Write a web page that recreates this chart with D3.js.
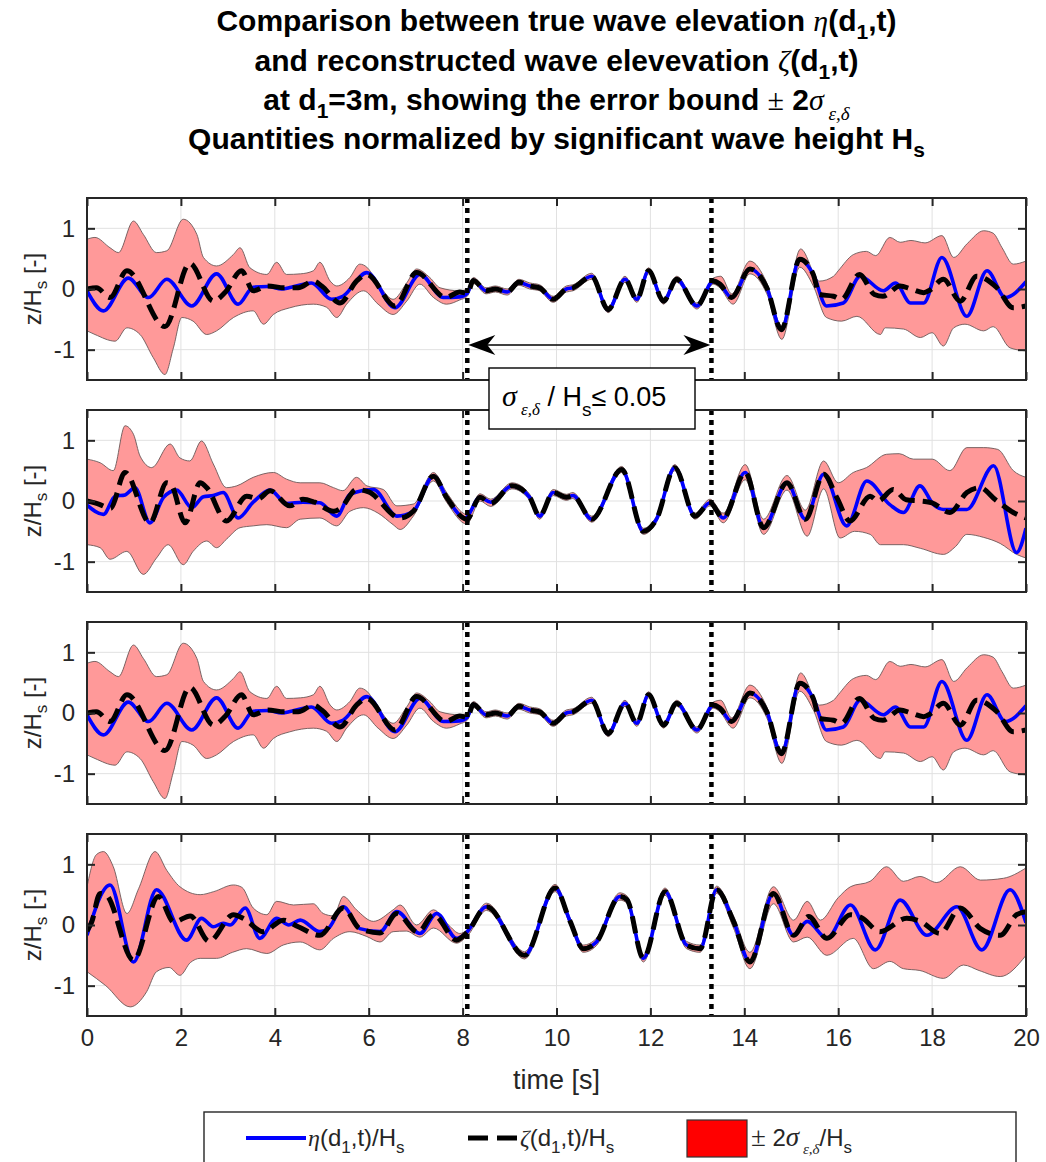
<!DOCTYPE html>
<html>
<head>
<meta charset="utf-8">
<script src="https://cdn.jsdelivr.net/npm/d3@7"></script>
<style>
  body { margin: 0; background: #fff; }
  svg { display: block; }
</style>
</head>
<body>
<svg id="chart" width="1046" height="1162"></svg>
<script>
// ---------------------------------------------------------------
// Wave elevation at d1 = 3 m, normalised by Hs.
// Each series is a list of [time (s), z/Hs] samples.
// ---------------------------------------------------------------

const timeTicks = [0, 2, 4, 6, 8, 10, 12, 14, 16, 18, 20];
const levelTicks = [-1, 0, 1];
const predictionWindow = [8.1, 13.3];   // s, zone where sigma/Hs <= 0.05

// Run A (top panel, repeated in the third panel)
const etaA = [[0,-0.03],[0.35,-0.36],[0.88,0.18],[1.31,-0.14],[1.70,0.16],[2.23,-0.28],[2.76,0.25],[3.22,-0.25],[3.54,0.03],[3.85,0.04],[4.15,0.0],[4.35,0.03],[4.78,0.10],[5.21,-0.17],[5.45,-0.12],[5.96,0.27],[6.56,-0.31],[7.09,0.24],[7.59,-0.14],[7.94,-0.13],[8.1,-0.07],[8.23,0.14],[8.5,-0.03],[8.7,0.0],[8.95,-0.05],[9.2,0.11],[9.43,0.05],[9.64,0.02],[9.93,-0.17],[10.21,0.0],[10.35,0.02],[10.75,0.21],[11.1,-0.34],[11.46,0.16],[11.71,-0.17],[11.96,0.30],[12.28,-0.20],[12.56,0.16],[12.99,-0.28],[13.34,0.13],[13.48,0.08],[13.73,-0.14],[14.12,0.33],[14.48,0.02],[14.79,-0.67],[15.18,0.49],[15.47,0.24],[15.75,-0.28],[16.11,-0.23],[16.47,0.21],[16.96,-0.03],[17.22,0.10],[17.54,-0.23],[17.82,-0.23],[18.21,0.52],[18.74,-0.45],[19.17,0.30],[19.56,-0.14],[20,0.12]];
const zetaA = [[0,0.0],[0.2,0.02],[0.49,-0.14],[0.85,0.30],[1.66,-0.62],[2.19,0.42],[2.69,-0.2],[2.95,-0.05],[3.29,0.30],[3.54,-0.03],[3.85,0.05],[4.2,0.02],[4.5,0.02],[4.82,0.13],[5.0,0.05],[5.39,-0.23],[5.74,0.13],[5.96,0.24],[6.56,-0.28],[7.02,0.27],[7.64,-0.14],[7.94,-0.05],[8.1,-0.07],[8.23,0.14],[8.5,-0.03],[8.7,0.0],[8.95,-0.05],[9.2,0.11],[9.43,0.05],[9.64,0.02],[9.93,-0.17],[10.21,0.0],[10.35,0.02],[10.75,0.21],[11.1,-0.34],[11.46,0.16],[11.71,-0.17],[11.96,0.30],[12.28,-0.20],[12.56,0.16],[12.99,-0.28],[13.34,0.13],[13.48,0.08],[13.73,-0.14],[14.12,0.33],[14.48,0.02],[14.79,-0.67],[15.18,0.49],[15.47,0.24],[15.6,-0.09],[15.9,-0.12],[16.07,-0.17],[16.45,0.24],[16.77,-0.09],[16.95,-0.12],[17.32,0.05],[17.55,0.0],[17.82,-0.06],[17.95,-0.02],[18.24,0.16],[18.6,-0.20],[18.95,0.21],[19.38,0.02],[19.73,-0.31],[20,-0.28]];
const upperA = [[0,0.82],[0.17,0.85],[0.49,0.68],[0.67,0.60],[0.99,1.12],[1.2,0.90],[1.48,0.60],[1.70,0.63],[2.05,1.15],[2.34,0.90],[2.48,0.52],[2.76,0.38],[3.12,0.57],[3.26,0.68],[3.47,0.35],[3.83,0.24],[4.04,0.44],[4.25,0.24],[4.55,0.25],[4.82,0.30],[4.96,0.44],[5.18,0.13],[5.32,0.05],[5.6,0.19],[5.81,0.41],[5.96,0.36],[6.17,0.13],[6.52,-0.17],[6.81,0.1],[7.02,0.33],[7.3,0.19],[7.52,0.02],[7.94,-0.03],[8.1,0.0],[8.23,0.19],[8.5,0.02],[8.7,0.05],[8.95,0.0],[9.2,0.16],[9.43,0.10],[9.64,0.07],[9.93,-0.12],[10.21,0.05],[10.35,0.07],[10.75,0.26],[11.1,-0.29],[11.46,0.21],[11.71,-0.12],[11.96,0.35],[12.28,-0.15],[12.56,0.21],[12.99,-0.23],[13.34,0.18],[13.5,0.21],[13.73,-0.08],[14.12,0.46],[14.48,0.1],[14.79,-0.6],[15.2,0.66],[15.6,0.13],[15.9,0.21],[16.0,0.3],[16.33,0.57],[16.6,0.62],[16.8,0.55],[17.1,0.85],[17.32,0.77],[17.55,0.8],[17.85,0.76],[18.21,0.88],[18.46,0.52],[18.75,0.75],[19.1,0.96],[19.3,0.92],[19.49,0.68],[19.73,0.41],[20,0.46]];
const lowerA = [[0,-0.69],[0.17,-0.75],[0.6,-0.86],[0.85,-0.64],[1.13,-0.75],[1.41,-1.13],[1.66,-1.41],[1.84,-0.97],[2.02,-0.47],[2.26,-0.53],[2.55,-0.75],[2.76,-0.69],[3.12,-0.47],[3.54,-0.36],[3.76,-0.58],[3.97,-0.42],[4.32,-0.31],[4.82,-0.25],[5.1,-0.3],[5.32,-0.47],[5.53,-0.25],[5.89,-0.03],[6.2,-0.25],[6.52,-0.42],[6.81,-0.20],[7.09,0.08],[7.38,-0.14],[7.66,-0.25],[7.94,-0.18],[8.1,-0.12],[8.23,0.09],[8.5,-0.08],[8.7,-0.05],[8.95,-0.1],[9.2,0.06],[9.43,0.0],[9.64,-0.03],[9.93,-0.22],[10.21,-0.05],[10.35,-0.03],[10.75,0.16],[11.1,-0.39],[11.46,0.11],[11.71,-0.22],[11.96,0.25],[12.28,-0.25],[12.56,0.11],[12.99,-0.33],[13.34,0.08],[13.48,0.02],[13.76,-0.25],[14.12,0.25],[14.48,-0.08],[14.8,-0.83],[15.18,0.36],[15.47,0.05],[15.75,-0.47],[16.07,-0.53],[16.4,-0.45],[16.9,-0.75],[17.0,-0.64],[17.39,-0.66],[17.75,-0.80],[18.0,-0.72],[18.24,-0.94],[18.46,-0.64],[18.7,-0.58],[19.1,-0.69],[19.3,-0.62],[19.66,-0.97],[20,-1.02]];

// Run B (second panel)
const etaB = [[0,-0.07],[0.35,-0.22],[0.6,0.08],[0.81,0.10],[1.02,0.22],[1.34,-0.36],[1.63,0.06],[1.91,0.18],[2.23,-0.11],[2.48,0.07],[2.69,0.09],[2.9,0.14],[3.22,-0.28],[3.54,-0.02],[3.9,0.18],[4.25,-0.04],[4.6,-0.02],[4.96,-0.03],[5.32,-0.25],[5.6,0.11],[6.1,0.19],[6.6,-0.25],[6.95,-0.17],[7.38,0.41],[7.66,0.06],[8.05,-0.28],[8.37,0.06],[8.6,-0.02],[9.05,0.25],[9.43,0.06],[9.64,-0.25],[9.93,0.14],[10.21,0.06],[10.35,0.09],[10.75,-0.30],[11.39,0.52],[11.85,-0.50],[12.13,-0.30],[12.52,0.55],[12.95,-0.25],[13.27,-0.03],[13.55,-0.28],[14.02,0.47],[14.41,-0.44],[14.91,0.30],[15.3,-0.30],[15.69,0.44],[16.18,-0.41],[16.61,0.33],[17.1,-0.06],[17.39,-0.19],[17.74,0.25],[18.03,-0.06],[18.24,-0.14],[18.74,-0.14],[19.31,0.58],[19.8,-0.85],[20,-0.45]];
const zetaB = [[0,0.0],[0.25,-0.05],[0.5,-0.12],[0.81,0.47],[1.34,-0.36],[1.7,0.30],[1.8,0.26],[2.09,-0.36],[2.41,0.30],[2.55,0.22],[2.97,-0.33],[3.4,0.08],[3.65,0.04],[3.9,0.17],[4.32,-0.08],[4.6,0.03],[4.85,-0.02],[5.25,-0.17],[5.4,-0.12],[5.74,0.19],[6.0,0.15],[6.67,-0.28],[6.95,-0.17],[7.38,0.41],[7.66,0.06],[8.09,-0.30],[8.37,0.06],[8.6,-0.04],[9.05,0.25],[9.43,0.06],[9.64,-0.25],[9.93,0.14],[10.21,0.06],[10.35,0.09],[10.75,-0.30],[11.39,0.52],[11.85,-0.50],[12.13,-0.30],[12.52,0.55],[12.95,-0.25],[13.27,-0.03],[13.55,-0.28],[14.02,0.47],[14.41,-0.44],[14.91,0.30],[15.3,-0.30],[15.69,0.44],[15.97,0.06],[16.25,-0.33],[16.68,0.08],[16.85,0.0],[17.17,0.19],[17.45,0.02],[17.74,0.0],[18.0,-0.03],[18.38,-0.19],[18.74,0.14],[19.02,0.22],[19.35,0.02],[19.73,-0.19],[20,-0.28]];
const upperB = [[0,0.69],[0.28,0.63],[0.56,0.50],[0.81,1.24],[0.99,1.10],[1.13,0.74],[1.38,0.55],[1.77,0.94],[1.98,0.71],[2.19,0.66],[2.44,0.99],[2.69,0.61],[2.97,0.22],[3.19,0.25],[3.54,0.39],[3.97,0.47],[4.25,0.36],[4.54,0.30],[4.96,0.30],[5.25,0.22],[5.45,0.17],[5.74,0.39],[5.96,0.25],[6.31,0.19],[6.6,-0.08],[6.95,-0.05],[7.38,0.47],[7.66,0.14],[8.09,-0.22],[8.37,0.12],[8.6,0.03],[9.05,0.30],[9.43,0.11],[9.64,-0.20],[9.93,0.19],[10.21,0.11],[10.35,0.14],[10.75,-0.25],[11.39,0.57],[11.85,-0.45],[12.13,-0.25],[12.52,0.60],[12.95,-0.20],[13.27,0.03],[13.55,-0.2],[14.02,0.6],[14.41,-0.3],[14.91,0.42],[15.3,-0.15],[15.69,0.66],[16.0,0.3],[16.32,0.47],[16.6,0.55],[17.03,0.77],[17.3,0.78],[17.6,0.69],[18.0,0.69],[18.38,0.50],[18.74,0.88],[19.1,0.88],[19.4,0.85],[19.73,0.50],[20,0.39]];
const lowerB = [[0,-0.72],[0.28,-0.77],[0.49,-0.96],[0.85,-0.83],[1.2,-1.21],[1.48,-0.94],[1.73,-0.72],[2.05,-1.05],[2.26,-0.83],[2.55,-0.66],[2.76,-0.77],[2.97,-0.63],[3.26,-0.44],[3.54,-0.41],[3.83,-0.39],[4.25,-0.44],[4.54,-0.30],[4.96,-0.28],[5.32,-0.41],[5.6,-0.17],[5.89,-0.11],[6.2,-0.2],[6.52,-0.39],[6.67,-0.47],[6.95,-0.25],[7.38,0.33],[7.66,-0.02],[8.09,-0.38],[8.37,0.0],[8.6,-0.09],[9.05,0.20],[9.43,0.01],[9.64,-0.30],[9.93,0.09],[10.21,0.01],[10.35,0.04],[10.75,-0.35],[11.39,0.47],[11.85,-0.55],[12.13,-0.35],[12.52,0.50],[12.95,-0.30],[13.27,-0.08],[13.55,-0.36],[14.02,0.35],[14.41,-0.55],[14.91,0.18],[15.34,-0.58],[15.69,0.2],[16.04,-0.61],[16.35,-0.5],[16.68,-0.55],[16.9,-0.72],[17.39,-0.72],[17.75,-0.78],[18.24,-0.88],[18.5,-0.75],[18.74,-0.55],[19.1,-0.6],[19.45,-0.7],[19.8,-0.88],[20,-0.94]];

// Run D (bottom panel)
const etaD = [[0,-0.17],[0.49,0.66],[0.99,-0.61],[1.48,0.58],[2.12,-0.25],[2.44,0.11],[2.69,-0.03],[2.9,0.03],[3.05,0.0],[3.37,0.28],[3.68,-0.22],[4.04,0.11],[4.3,0.0],[4.54,0.08],[4.96,-0.11],[5.15,-0.05],[5.46,0.30],[5.81,-0.06],[6.24,-0.11],[6.6,0.22],[7.09,-0.14],[7.45,0.19],[7.87,-0.22],[8.05,-0.15],[8.51,0.30],[9.32,-0.50],[9.97,0.61],[10.29,0.06],[10.57,-0.39],[10.85,-0.28],[11.35,0.47],[11.5,0.42],[11.85,-0.55],[12.31,0.55],[12.77,-0.33],[13.06,-0.39],[13.41,0.58],[13.77,0.06],[14.12,-0.61],[14.62,0.52],[15.05,-0.17],[15.34,0.06],[15.76,-0.22],[16.26,0.33],[16.79,-0.41],[17.32,0.41],[17.89,-0.17],[18.53,0.30],[19.06,-0.41],[19.66,0.58],[20,0.04]];
const zetaD = [[0,-0.1],[0.1,0.05],[0.28,0.52],[0.4,0.5],[0.99,-0.58],[1.52,0.47],[1.85,0.05],[2.2,0.15],[2.6,-0.27],[3.12,0.17],[3.35,0.1],[3.75,-0.11],[4.18,0.08],[4.5,-0.03],[4.96,-0.17],[5.46,0.28],[5.81,-0.06],[6.24,-0.13],[6.6,0.19],[7.05,-0.12],[7.38,0.17],[7.87,-0.25],[8.1,-0.12],[8.51,0.30],[9.32,-0.50],[9.97,0.61],[10.29,0.06],[10.57,-0.39],[10.85,-0.28],[11.35,0.47],[11.5,0.42],[11.85,-0.55],[12.31,0.55],[12.77,-0.33],[13.06,-0.39],[13.41,0.58],[13.77,0.06],[14.12,-0.61],[14.62,0.52],[15.05,-0.17],[15.37,0.14],[15.76,-0.22],[16.26,0.17],[16.5,0.12],[16.89,-0.11],[17.46,0.11],[17.75,0.06],[18.17,-0.14],[18.6,0.28],[19.03,-0.06],[19.45,-0.17],[19.8,0.17],[20,0.22]];
const upperD = [[0,0.63],[0.2,1.16],[0.35,1.21],[0.56,0.96],[0.85,0.19],[1.1,0.6],[1.45,1.21],[1.7,0.9],[1.98,0.63],[2.41,0.50],[2.7,0.55],[3.12,0.66],[3.3,0.62],[3.54,0.28],[3.83,0.17],[4.04,0.39],[4.4,0.33],[4.82,0.35],[5.03,0.19],[5.25,0.15],[5.46,0.47],[5.74,0.25],[6.1,0.06],[6.52,0.25],[6.67,0.33],[7.02,0.0],[7.38,0.25],[7.7,0.0],[7.94,-0.14],[8.1,-0.08],[8.51,0.36],[9.32,-0.44],[9.97,0.67],[10.29,0.12],[10.57,-0.33],[10.85,-0.22],[11.35,0.53],[11.5,0.48],[11.85,-0.49],[12.31,0.61],[12.77,-0.27],[13.06,-0.33],[13.41,0.64],[13.77,0.15],[14.12,-0.45],[14.62,0.63],[15.05,0.08],[15.34,0.39],[15.62,0.08],[16.0,0.45],[16.26,0.63],[16.68,0.72],[17.03,0.96],[17.39,0.72],[17.74,0.80],[18.1,0.7],[18.6,0.96],[19.03,0.74],[19.52,0.77],[20,0.94]];
const lowerD = [[0,-0.77],[0.4,-1.0],[0.92,-1.35],[1.27,-1.1],[1.48,-0.77],[1.75,-0.7],[1.98,-0.83],[2.2,-0.62],[2.41,-0.55],[2.76,-0.55],[3.1,-0.45],[3.4,-0.39],[3.83,-0.47],[4.18,-0.33],[4.54,-0.28],[4.96,-0.41],[5.25,-0.22],[5.6,-0.11],[5.96,-0.19],[6.24,-0.28],[6.52,-0.11],[6.8,-0.1],[7.09,-0.2],[7.38,-0.05],[7.87,-0.30],[8.1,-0.18],[8.51,0.24],[9.32,-0.56],[9.97,0.55],[10.29,0.0],[10.57,-0.45],[10.85,-0.34],[11.35,0.41],[11.5,0.36],[11.85,-0.61],[12.31,0.49],[12.77,-0.39],[13.06,-0.45],[13.41,0.52],[13.77,-0.05],[14.12,-0.72],[14.62,0.35],[15.05,-0.28],[15.34,-0.2],[15.76,-0.50],[16.32,-0.22],[16.75,-0.72],[17.1,-0.6],[17.39,-0.72],[17.74,-0.75],[18.24,-0.88],[18.67,-0.66],[19.0,-0.75],[19.45,-0.85],[20,-0.5]];

const panels = [
  { eta: etaA, zeta: zetaA, upper: upperA, lower: lowerA },
  { eta: etaB, zeta: zetaB, upper: upperB, lower: lowerB },
  { eta: etaA, zeta: zetaA, upper: upperA, lower: lowerA },
  { eta: etaD, zeta: zetaD, upper: upperD, lower: lowerD }
];

// ---------------------------------------------------------------
const SANS = "'Liberation Sans', Arial, Helvetica, sans-serif";
const SERIF = "'Liberation Serif', 'DejaVu Serif', 'Times New Roman', serif";
const AXIS_COLOR = "#262626";

const svg = d3.select("#chart");
const plotLeft = 87, plotRight = 1026;
const panelTop0 = 198, panelStep = 212, panelH = 182;

const x = d3.scaleLinear().domain([0, 20]).range([plotLeft, plotRight]);

// Rich text helper: parts are {t, font, style, weight, size, sub}
function rich(textSel, parts, baseSize) {
  let shift = 0;
  parts.forEach(p => {
    const target = p.sub ? p.sub : 0;
    const ts = textSel.append("tspan").text(p.t);
    if (target !== shift) { ts.attr("dy", target - shift); shift = target; }
    if (p.font) ts.attr("font-family", p.font);
    if (p.style) ts.attr("font-style", p.style);
    if (p.weight) ts.attr("font-weight", p.weight);
    ts.attr("font-size", p.size || baseSize);
  });
  return textSel;
}

// ---- title -----------------------------------------------------
const titleX = (plotLeft + plotRight) / 2;
const tSize = 30, tSub = 21, tSubDy = 8;
const titleLines = [
  [{t:"Comparison between true wave elevation "},{t:"η",font:SERIF,style:"italic",weight:"normal"},{t:"(d"},{t:"1",size:tSub,sub:tSubDy},{t:",t)"}],
  [{t:"and reconstructed wave elevevation "},{t:"ζ",font:SERIF,style:"italic",weight:"normal"},{t:"(d"},{t:"1",size:tSub,sub:tSubDy},{t:",t)"}],
  [{t:"at d"},{t:"1",size:tSub,sub:tSubDy},{t:"=3m, showing the error bound "},{t:"±",font:SERIF,weight:"normal"},{t:" 2"},{t:"σ",font:SERIF,style:"italic",weight:"normal"},{t:" ε,δ",font:SERIF,style:"italic",weight:"normal",size:19,sub:10}],
  [{t:"Quantities normalized by significant wave height H"},{t:"s",size:tSub,sub:tSubDy}]
];
const titleBase = [31, 71, 110, 149];
titleLines.forEach((parts, i) => {
  const t = svg.append("text")
    .attr("x", titleX).attr("y", titleBase[i])
    .attr("text-anchor", "middle")
    .attr("font-family", SANS).attr("font-weight", "bold")
    .attr("fill", "#000");
  rich(t, parts, tSize);
});

// ---- panels ----------------------------------------------------
const lineGen = y => d3.line().x(d => x(d[0])).y(d => y(d[1])).curve(d3.curveMonotoneX);

panels.forEach((p, i) => {
  const top = panelTop0 + i * panelStep;
  const bottom = top + panelH;
  const y = d3.scaleLinear().domain([-1.5, 1.5]).range([bottom, top]);
  const g = svg.append("g");

  const clipId = "clip-" + i;
  svg.append("clipPath").attr("id", clipId)
    .append("rect").attr("x", plotLeft).attr("y", top)
    .attr("width", plotRight - plotLeft).attr("height", panelH);

  // grid
  const grid = g.append("g").attr("stroke", "#e1e1e1").attr("stroke-width", 1);
  grid.selectAll("line.vx").data(timeTicks).join("line")
    .attr("x1", d => x(d)).attr("x2", d => x(d)).attr("y1", top).attr("y2", bottom);
  grid.selectAll("line.hy").data(levelTicks).join("line")
    .attr("x1", plotLeft).attr("x2", plotRight).attr("y1", d => y(d)).attr("y2", d => y(d));

  const data = g.append("g").attr("clip-path", `url(#${clipId})`);

  // error band: upper edge forward, lower edge back
  const L = lineGen(y);
  const up = L(p.upper);
  const lo = L(p.lower.slice().reverse());
  data.append("path")
    .attr("d", up + "L" + lo.slice(1) + "Z")
    .attr("fill", "#ff9999")
    .attr("stroke", "#6b5858").attr("stroke-width", 0.9).attr("stroke-linejoin", "round");

  data.append("path").attr("d", L(p.eta))
    .attr("fill", "none").attr("stroke", "#0000ff").attr("stroke-width", 3.6);

  data.append("path").attr("d", L(p.zeta))
    .attr("fill", "none").attr("stroke", "#000").attr("stroke-width", 5)
    .attr("stroke-dasharray", "17 8");

  // prediction window limits
  g.selectAll("line.win").data(predictionWindow).join("line")
    .attr("x1", d => x(d)).attr("x2", d => x(d)).attr("y1", top).attr("y2", bottom)
    .attr("stroke", "#000").attr("stroke-width", 4.5).attr("stroke-dasharray", "5 5");

  // axes
  const style = s => {
    s.select(".domain").remove();
    s.selectAll(".tick line").attr("stroke", AXIS_COLOR).attr("stroke-width", 2);
    s.selectAll(".tick text").attr("fill", AXIS_COLOR).attr("font-family", SANS).attr("font-size", 24);
  };
  g.append("g").attr("transform", `translate(0,${bottom})`)
    .call(d3.axisBottom(x).tickValues(timeTicks).tickSizeInner(-8).tickSizeOuter(0).tickPadding(13)
      .tickFormat(i === panels.length - 1 ? (d => String(d)) : () => ""))
    .call(style);
  g.append("g").attr("transform", `translate(0,${top})`)
    .call(d3.axisTop(x).tickValues(timeTicks).tickSizeInner(-8).tickSizeOuter(0).tickFormat(() => ""))
    .call(style);
  g.append("g").attr("transform", `translate(${plotLeft},0)`)
    .call(d3.axisLeft(y).tickValues(levelTicks).tickSizeInner(-8).tickSizeOuter(0).tickPadding(12)
      .tickFormat(d => String(d)))
    .call(style);
  g.append("g").attr("transform", `translate(${plotRight},0)`)
    .call(d3.axisRight(y).tickValues(levelTicks).tickSizeInner(-8).tickSizeOuter(0).tickFormat(() => ""))
    .call(style);

  g.append("rect").attr("x", plotLeft).attr("y", top)
    .attr("width", plotRight - plotLeft).attr("height", panelH)
    .attr("fill", "none").attr("stroke", AXIS_COLOR).attr("stroke-width", 2);

  // y label
  const yl = g.append("text")
    .attr("transform", `translate(41,${(top + bottom) / 2}) rotate(-90)`)
    .attr("text-anchor", "middle").attr("font-family", SANS).attr("fill", AXIS_COLOR);
  rich(yl, [{t:"z/H"},{t:"s",size:17,sub:6},{t:" [-]"}], 24);
});

// x label
svg.append("text").attr("x", titleX).attr("y", 1089)
  .attr("text-anchor", "middle").attr("font-family", SANS).attr("font-size", 27)
  .attr("fill", AXIS_COLOR).text("time [s]");

// ---- annotation: window arrow and sigma bound -----------------
const arrowY = 345;
const ann = svg.append("g");
ann.append("line")
  .attr("x1", x(predictionWindow[0]) + 10).attr("x2", x(predictionWindow[1]) - 10)
  .attr("y1", arrowY).attr("y2", arrowY)
  .attr("stroke", "#000").attr("stroke-width", 1.5);
function arrowHead(tipX, dir) {
  const Lh = 27, Wh = 10, notch = 19;
  const pts = [[tipX, arrowY], [tipX + dir * Lh, arrowY - Wh], [tipX + dir * notch, arrowY], [tipX + dir * Lh, arrowY + Wh]];
  ann.append("path").attr("d", "M" + pts.map(q => q.join(",")).join("L") + "Z").attr("fill", "#000");
}
arrowHead(x(predictionWindow[0]) + 1, 1);
arrowHead(x(predictionWindow[1]) - 1, -1);

ann.append("rect").attr("x", 489).attr("y", 368).attr("width", 206).attr("height", 61)
  .attr("fill", "#fff").attr("stroke", "#000").attr("stroke-width", 1.4);
const annText = ann.append("text").attr("x", 502).attr("y", 406)
  .attr("font-family", SANS).attr("fill", "#000");
rich(annText, [
  {t:"σ",font:SERIF,style:"italic",size:30},
  {t:" ε,δ",font:SERIF,style:"italic",size:17,sub:9},
  {t:" / H",size:27},
  {t:"s",size:19,sub:10},
  {t:"≤ 0.05",size:27}
], 27);

// ---- legend ----------------------------------------------------
const leg = svg.append("g");
leg.append("rect").attr("x", 204).attr("y", 1112).attr("width", 812).attr("height", 80)
  .attr("fill", "#fff").attr("stroke", AXIS_COLOR).attr("stroke-width", 1.4);
const legY = 1138, legBase = 1146, legSize = 24;
leg.append("line").attr("x1", 246).attr("x2", 306).attr("y1", legY).attr("y2", legY)
  .attr("stroke", "#0000ff").attr("stroke-width", 4);
rich(leg.append("text").attr("x", 308).attr("y", legBase).attr("font-family", SANS).attr("fill", AXIS_COLOR),
  [{t:"η",font:SERIF,style:"italic"},{t:"(d"},{t:"1",size:17,sub:7},{t:",t)/H"},{t:"s",size:17,sub:7}], legSize);
leg.append("line").attr("x1", 468).attr("x2", 518).attr("y1", legY).attr("y2", legY)
  .attr("stroke", "#000").attr("stroke-width", 5).attr("stroke-dasharray", "20 9");
rich(leg.append("text").attr("x", 520).attr("y", legBase).attr("font-family", SANS).attr("fill", AXIS_COLOR),
  [{t:"ζ",font:SERIF,style:"italic"},{t:"(d"},{t:"1",size:17,sub:7},{t:",t)/H"},{t:"s",size:17,sub:7}], legSize);
leg.append("rect").attr("x", 687).attr("y", 1120).attr("width", 60).attr("height", 37)
  .attr("fill", "#ff0000").attr("stroke", "#333").attr("stroke-width", 1.2);
rich(leg.append("text").attr("x", 751).attr("y", legBase).attr("font-family", SANS).attr("fill", AXIS_COLOR),
  [{t:"±",font:SERIF,size:27},{t:" 2"},{t:"σ",font:SERIF,style:"italic",size:27},{t:" ε,δ",font:SERIF,style:"italic",size:15,sub:8},{t:"/H"},{t:"s",size:17,sub:7}], legSize);
</script>
</body>
</html>
